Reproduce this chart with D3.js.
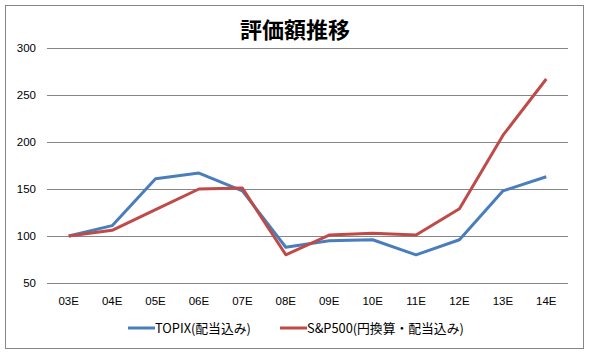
<!DOCTYPE html>
<html><head><meta charset="utf-8">
<script src="https://cdn.jsdelivr.net/npm/d3@7"></script>
<style>body{margin:0;background:#fff;} svg{display:block;}</style>
</head><body>
<svg id="c" width="589" height="356"></svg>
<script>
const categories = ["03E","04E","05E","06E","07E","08E","09E","10E","11E","12E","13E","14E"];
const topix = [100,111,161,167,148,88,95,96,80,96,148,163];
const sp500 = [100,106,128,150,151,80,101,103,101,129,207,267];
const yTicks = [50,100,150,200,250,300];
const seriesNames = ["TOPIX(配当込み)","S&P500(円換算・配当込み)"];
const colors = ["#4a7ebb","#be4b48"];

(function(){
const svg = d3.select("#c");
const font = "'Noto Sans CJK JP', 'Noto Sans', sans-serif";
svg.append("rect").attr("x",5.5).attr("y",5.5).attr("width",578).attr("height",343)
  .attr("fill","#fff").attr("stroke","#868686").attr("stroke-width",1);

const pl=47, pr=568, pt=48, pb=283;
const x = d3.scaleBand().domain(categories).range([pl,pr]);
const y = d3.scaleLinear().domain([50,300]).range([pb,pt]);

svg.append("text").attr("x",295).attr("y",38).attr("text-anchor","middle")
  .attr("font-family",font).attr("font-weight","bold").attr("font-size",22).attr("fill","#000").text("評価額推移");

const ya = svg.append("g").attr("transform",`translate(${pl},0)`)
  .call(d3.axisLeft(y).tickValues(yTicks).tickSize(-(pr-pl)).tickPadding(11));
ya.select(".domain").remove();
ya.selectAll("line").attr("stroke","#868686").attr("shape-rendering","crispEdges");
ya.selectAll("text").attr("font-family","'Liberation Sans', Arial, sans-serif").attr("font-size",11.5).attr("fill","#000");

const xa = svg.append("g").attr("transform",`translate(0,${pb})`)
  .call(d3.axisBottom(x).tickSize(0).tickPadding(14));
xa.select(".domain").remove();
xa.selectAll("text").attr("font-family","'Liberation Sans', Arial, sans-serif").attr("font-size",11.5).attr("fill","#000");

const line = d3.line().x((d,i)=>x(categories[i])+x.bandwidth()/2).y(d=>y(d));
[topix, sp500].forEach((s,k)=>{
  svg.append("path").datum(s).attr("d",line).attr("fill","none")
    .attr("stroke",colors[k]).attr("stroke-width",3).attr("stroke-linejoin","round");
});

const legX = [128, 280];
seriesNames.forEach((n,k)=>{
  const g = svg.append("g").attr("transform",`translate(${legX[k]},328)`);
  g.append("line").attr("x1",0).attr("x2",27).attr("y1",0).attr("y2",0).attr("stroke",colors[k]).attr("stroke-width",3);
  g.append("text").attr("x",27).attr("y",4.5).attr("font-family",font).attr("font-size",12.8).attr("fill","#000").text(n);
});
})();
</script>
</body></html>
